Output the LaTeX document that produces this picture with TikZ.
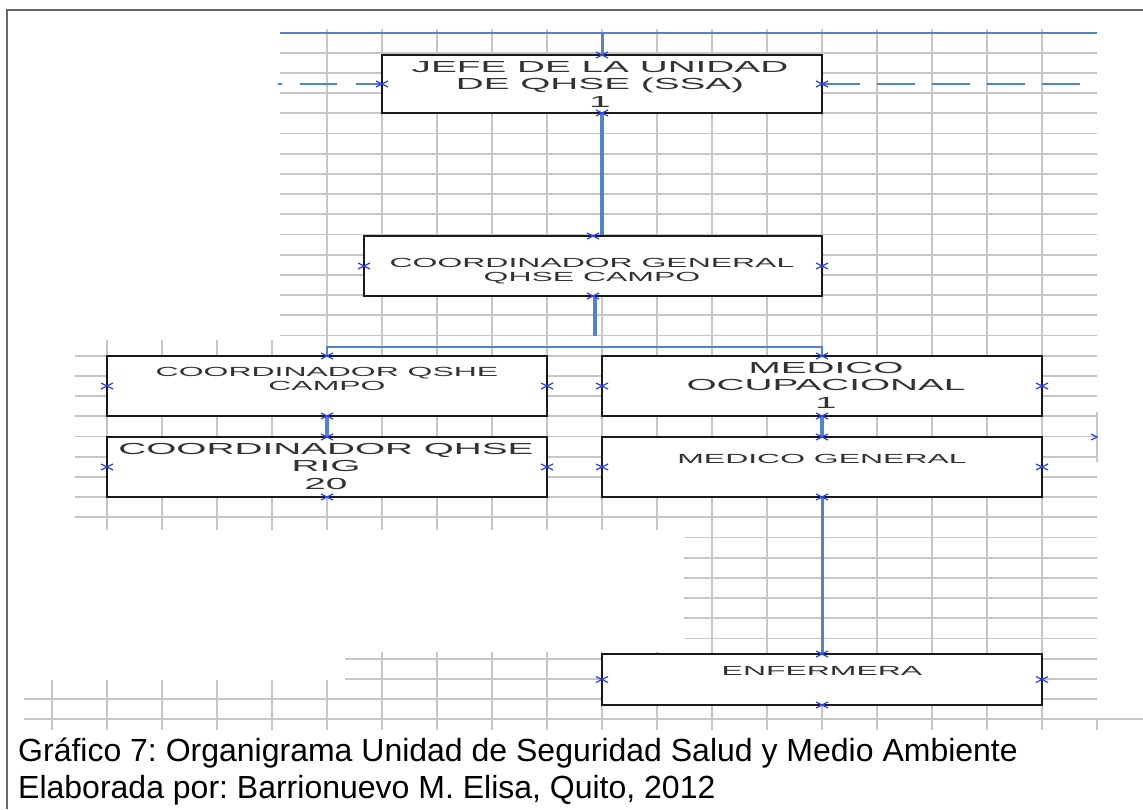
\documentclass[tikz,border=0pt]{standalone}
\usepackage{fontspec}
\setmainfont{Liberation Sans}
\newfontfamily\boxfont[FakeStretch=2.42]{Liberation Sans}
\usetikzlibrary{backgrounds}
\frenchspacing
\definecolor{connblue}{RGB}{82,130,202}
\definecolor{markblue}{RGB}{45,65,245}
\definecolor{gridc}{RGB}{198,198,198}
\definecolor{boxtext}{RGB}{50,50,50}
\definecolor{framec}{RGB}{105,105,105}
\tikzset{
  gridline/.style={draw=gridc, line width=1.7pt},
  orgbox/.style={draw=black!90, fill=white, line width=2.9pt, rectangle, inner sep=0pt, outer sep=0pt},
  bigtxt/.style={font=\boxfont\fontsize{16}{17.5}\selectfont, text=boxtext, align=center, inner sep=0pt},
  smalltxt/.style={font=\boxfont\fontsize{13.2}{14}\selectfont, text=boxtext, align=center, inner sep=0pt},
  connl/.style={draw=connblue, line width=2.6pt},
  xmk/.style={draw=markblue, line width=1.2pt},
  captxt/.style={font=\fontsize{32}{38}\selectfont, anchor=base west, inner sep=0pt, text=black}
}
\begin{document}
\begin{tikzpicture}[x=1pt,y=-1pt]
\useasboundingbox (0,0) rectangle (1143,809);

% boxes
\node[orgbox, minimum width=440pt, minimum height=58pt] (jefe) at (602,84) {};
\node[orgbox, minimum width=458pt, minimum height=60pt] (cgen) at (593,266) {};
\node[orgbox, minimum width=440pt, minimum height=60pt] (qcampo) at (327,386) {};
\node[orgbox, minimum width=440pt, minimum height=60pt] (rig) at (327,467) {};
\node[orgbox, minimum width=440pt, minimum height=60pt] (mocup) at (822,386) {};
\node[orgbox, minimum width=440pt, minimum height=60pt] (mgen) at (822,467) {};
\node[orgbox, minimum width=440pt, minimum height=51pt] (enf) at (822,679.5) {};

% texts
\node[bigtxt] (jefe-t) at (600,84) {JEFE DE LA UNIDAD\\DE QHSE (SSA)\\1};
\node[smalltxt] (cgen-t) at (592,271) {COORDINADOR GENERAL\\QHSE CAMPO};
\node[smalltxt] (qcampo-t) at (327,378.5) {COORDINADOR QSHE\\CAMPO};
\node[bigtxt] (rig-t) at (326,466) {COORDINADOR QHSE\\RIG\\20};
\node[bigtxt] (mocup-t) at (826,385) {MEDICO\\OCUPACIONAL\\1};
\node[smalltxt] (mgen-t) at (822,459) {MEDICO GENERAL};
\node[smalltxt] (enf-t) at (822,671) {ENFERMERA};

% caption
\node[captxt] (cap1) at (18,761) {Gráfico 7: Organigrama Unidad de Seguridad Salud y Medio Ambiente};
\node[captxt] (cap2) at (18,798) {Elaborada por: Barrionuevo M. Elisa, Quito, 2012};

\begin{scope}[on background layer]
  % frame
  \draw[draw=framec, line width=1.5pt] (7,809) -- (7,10) -- (1143,10);
  % horizontal grid
  \foreach \j in {1,...,15} \draw[gridline] (280,{32.5+20.2*\j}) -- (1097,{32.5+20.2*\j});
  \foreach \j in {16,...,24} \draw[gridline] (75,{32.5+20.2*\j}) -- (1097,{32.5+20.2*\j});
  \foreach \j in {25,...,30} \draw[gridline] (684,{32.5+20.2*\j}) -- (1097,{32.5+20.2*\j});
  \foreach \j in {31,32} \draw[gridline] (345,{32.5+20.2*\j}) -- (1097,{32.5+20.2*\j});
  \draw[gridline] (24,699.1) -- (1097,699.1);
  \draw[gridline] (24,719.3) -- (1143,719.3);
  % vertical grid
  \foreach \k in {5,...,11} \draw[gridline] ({52+55*\k},29) -- ({52+55*\k},530);
  \foreach \k in {12,...,18} \draw[gridline] ({52+55*\k},29) -- ({52+55*\k},730);
  \foreach \k in {1,...,4} \draw[gridline] ({52+55*\k},340) -- ({52+55*\k},530);
  \foreach \k in {0,...,5} \draw[gridline] ({52+55*\k},680) -- ({52+55*\k},730);
  \foreach \k in {6,...,11} \draw[gridline] ({52+55*\k},652) -- ({52+55*\k},730);
  \draw[gridline] (1097,412) -- (1097,462);
  \draw[gridline] (1097,718) -- (1097,730);

  % connectors
  \coordinate (topL) at (280,33);
  \coordinate (topR) at (1097,33);
  \coordinate (dl) at (278,84);
  \coordinate (dr) at (1085,84);
  \draw[connl] (topL) -- (topR);
  \draw[connl, line width=3pt] (jefe.north |- topL) -- (jefe.north);
  \draw[connl, line width=3.5pt] (jefe.south) -- (jefe.south |- cgen.north);
  \draw[connl, line width=3.5pt] ([xshift=2pt]cgen.south) -- ++(0,40);
  \draw[connl, line width=2pt] (qcampo.north) -- ++(0,-9) -| (mocup.north);
  \draw[connl, line width=4pt] (qcampo.south) -- (rig.north);
  \draw[connl, line width=4pt] (mocup.south) -- (mgen.north);
  \draw[connl, line width=3pt] (mgen.south) -- (enf.north);
  \draw[connl, line width=2pt, dash pattern=on 26pt off 19pt on 37pt off 18pt on 5pt off 100pt] (jefe.west) -- (dl);
  \draw[connl, line width=2pt, dash pattern=on 38pt off 17pt] (jefe.east) -- (dr);
\end{scope}

% connection marks
\foreach \n in {jefe,cgen,qcampo,rig,mocup,mgen,enf}
  \foreach \a in {north,south,east,west}
    \draw[xmk] (\n.\a) +(-6,-3) -- +(6,3) +(-6,3) -- +(6,-3);
\draw[xmk] (1091,434) -- (1097,437) -- (1091,440);
\end{tikzpicture}
\end{document}
